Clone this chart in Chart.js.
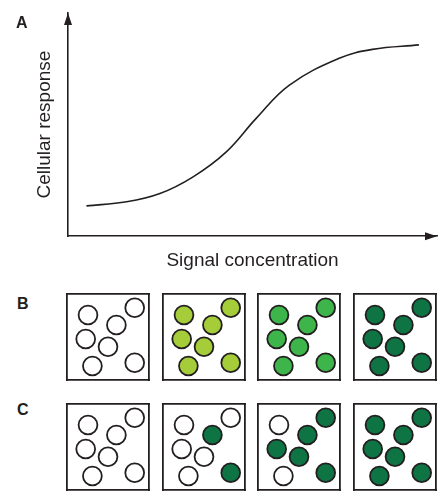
<!DOCTYPE html>
<html>
<head>
<meta charset="utf-8">
<script src="https://cdn.jsdelivr.net/npm/chart.js@4.4.1/dist/chart.umd.min.js"></script>
<style>
  html, body { margin: 0; padding: 0; background: #fff; }
  #page { position: relative; width: 438px; height: 491px; overflow: hidden; }
  canvas { position: absolute; }
  .panel-label { position: absolute; font: bold 16px "Liberation Sans", Arial, sans-serif; line-height: 16px; color: #231f20; }
</style>
</head>
<body>
<div id="page">
  <canvas id="curve" width="438" height="280" style="left:0;top:0"></canvas>
  <div class="panel-label" style="left:16px;top:15px">A</div>
  <div class="panel-label" style="left:17px;top:296px">B</div>
  <div class="panel-label" style="left:17px;top:402px">C</div>
</div>
<script>
// Panel A: dose-response curve (arbitrary units, 0-100 on both axes)
const concentration = [5.0, 15.9, 24.9, 33.9, 42.9, 51.0, 60.0, 73.5, 82.5, 95.1];
const response = [13.6, 15.4, 19.1, 26.6, 37.8, 52.8, 67.7, 79.7, 83.7, 85.7];

// Panels B/C: cell positions inside each box (box units, 82 x 86)
const cellX = [21, 67.7, 49.4, 18.7, 41, 25.4, 67.7];
const cellY = [21, 13.7, 31, 45, 52.7, 72, 68.7];

// B: every cell responds a little more in each box (graded)
const gradedLevels = ['none', 'low', 'mid', 'high'];
// C: each cell is either off or fully on (all-or-none)
const switchedOn = [
    [0, 0, 0, 0, 0, 0, 0],
    [0, 0, 1, 0, 0, 0, 1],
    [0, 1, 1, 1, 1, 0, 1],
    [1, 1, 1, 1, 1, 1, 1]
];

const INK = '#231f20';
const FONT = '"Liberation Sans", Arial, sans-serif';
const levelColors = { none: '#ffffff', low: '#a5cd39', mid: '#3db54a', high: '#0e7443' };

Chart.defaults.animation = false;
Chart.defaults.font.family = FONT;
Chart.defaults.color = INK;

const arrowHeads = {
    id: 'arrowHeads',
    afterDraw(chart) {
        const { left, right, bottom, top } = chart.chartArea;
        const ctx = chart.ctx;
        ctx.save();
        ctx.fillStyle = INK;
        // up arrow at top of y axis
        ctx.beginPath();
        ctx.moveTo(left, top);
        ctx.lineTo(left - 4, top + 12);
        ctx.lineTo(left + 4, top + 12);
        ctx.closePath();
        ctx.fill();
        // right arrow at end of x axis
        ctx.beginPath();
        ctx.moveTo(right, bottom);
        ctx.lineTo(right - 12, bottom - 4);
        ctx.lineTo(right - 12, bottom + 4);
        ctx.closePath();
        ctx.fill();
        ctx.restore();
    }
};

function bareAxis(extra, width) {
    return Object.assign({
        type: 'linear',
        display: true,
        ticks: { display: false },
        grid: { display: false, drawTicks: false },
        border: { display: true, color: INK, width: width || 1.6 }
    }, extra);
}

new Chart(document.getElementById('curve'), {
    type: 'line',
    data: {
        datasets: [{
            data: concentration.map((c, i) => ({ x: c, y: response[i] })),
            borderColor: INK,
            borderWidth: 1.6,
            pointRadius: 0,
            fill: false,
            tension: 0.4
        }]
    },
    options: {
        responsive: false,
        layout: { autoPadding: false, padding: { left: 33.6, top: 13, right: 1, bottom: 8 } },
        plugins: { legend: { display: false }, tooltip: { enabled: false } },
        scales: {
            x: bareAxis({
                min: 0, max: 100,
                title: { display: true, text: 'Signal concentration', color: INK,
                    font: { size: 19, family: FONT }, padding: { top: 13, bottom: 0 } }
            }),
            y: bareAxis({
                min: 0, max: 100,
                title: { display: true, text: 'Cellular response', color: INK,
                    font: { size: 19, family: FONT }, padding: { top: 0, bottom: 11.6 } }
            })
        }
    },
    plugins: [arrowHeads]
});

// layout of the eight boxes
const boxLefts = [67, 163, 258, 354];
const rowTops = { B: 294, C: 404 };
const BOX_W = 82, BOX_H = 86, PAD = 2;

function drawBox(row, col, colors) {
    const canvas = document.createElement('canvas');
    canvas.width = BOX_W + PAD * 2;
    canvas.height = BOX_H + PAD * 2;
    canvas.style.left = (boxLefts[col] - PAD) + 'px';
    canvas.style.top = (rowTops[row] - PAD) + 'px';
    document.getElementById('page').appendChild(canvas);

    new Chart(canvas, {
        type: 'scatter',
        data: {
            datasets: [{
                data: cellX.map((x, i) => ({ x: x, y: cellY[i] })),
                pointRadius: 9.4,
                pointBorderWidth: 1.8,
                pointBorderColor: INK,
                pointBackgroundColor: colors
            }]
        },
        options: {
            responsive: false,
            events: [],
            layout: { autoPadding: false, padding: PAD },
            plugins: { legend: { display: false }, tooltip: { enabled: false } },
            scales: {
                x: bareAxis({ min: 0, max: BOX_W, position: 'bottom' }, 1.8),
                x2: bareAxis({ min: 0, max: BOX_W, position: 'top' }, 1.8),
                y: bareAxis({ min: 0, max: BOX_H, reverse: true, position: 'left' }, 1.8),
                y2: bareAxis({ min: 0, max: BOX_H, reverse: true, position: 'right' }, 1.8)
            }
        }
    });
}

gradedLevels.forEach((level, col) => {
    drawBox('B', col, cellX.map(() => levelColors[level]));
});

switchedOn.forEach((states, col) => {
    drawBox('C', col, states.map(on => on ? levelColors.high : levelColors.none));
});
</script>
</body>
</html>
